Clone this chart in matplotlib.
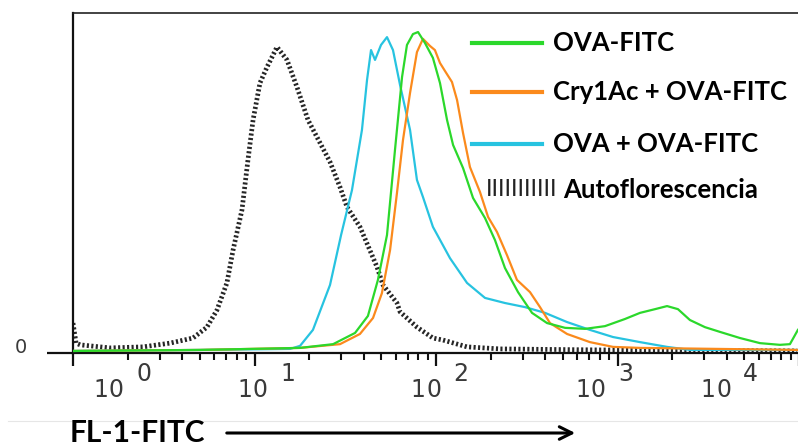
import numpy as np
import matplotlib
matplotlib.use("Agg")
import matplotlib.pyplot as plt
from matplotlib.lines import Line2D

W, H_ = 798, 446

# FL-1 intensity in decades (log10) and relative counts (0-100)
auto_log = [0.0, 0.017, 0.039, 0.204, 0.386, 0.534, 0.661, 0.738, 0.793, 0.848, 0.882,
            0.931, 0.964, 0.992, 1.030, 1.069, 1.124, 1.179, 1.234, 1.295, 1.361, 1.416,
            1.471, 1.510, 1.581, 1.675, 1.708, 1.785, 1.802, 1.895, 1.983, 2.039, 2.171,
            2.353, 2.904, 3.99]
auto_cnt = [8.8, 2.9, 2.4, 1.5, 1.8, 2.9, 4.4, 7.6, 12.6, 20.6, 30.3,
            42.1, 56.8, 68.5, 79.4, 84.1, 90.0, 86.2, 78.2, 68.5, 61.8, 56.2,
            48.8, 42.9, 37.1, 25.3, 20.0, 14.7, 12.1, 7.6, 4.4, 3.8, 1.8,
            1.2, 0.9, 0.6]

ova_log = [0.0, 0.70, 1.196, 1.251, 1.322, 1.416, 1.477, 1.537, 1.592, 1.620, 1.642,
           1.664, 1.697, 1.730, 1.763, 1.802, 1.857, 1.895, 1.928, 1.983, 2.077, 2.171,
           2.270, 2.380, 2.490, 2.601, 2.722, 2.848, 2.975, 3.124, 3.273, 3.40, 3.99]
ova_cnt = [0.6, 0.9, 1.2, 2.1, 6.8, 20.0, 34.7, 47.9, 65.6, 80.3, 89.1,
           86.2, 90.6, 92.9, 89.1, 78.8, 65.6, 50.9, 45.9, 37.1, 27.9, 20.6,
           16.2, 14.7, 13.5, 11.8, 9.1, 6.8, 4.7, 3.2, 1.8, 0.9, 0.9]

fitc_log = [0.0, 0.70, 1.251, 1.433, 1.554, 1.625, 1.680, 1.730, 1.774, 1.813, 1.840,
            1.873, 1.901, 1.939, 1.983, 2.022, 2.061, 2.094, 2.149, 2.204, 2.270, 2.325,
            2.380, 2.452, 2.529, 2.612, 2.711, 2.821, 2.931, 3.041, 3.124, 3.207, 3.273,
            3.333, 3.399, 3.482, 3.565, 3.675, 3.785, 3.895, 3.950, 3.994]
fitc_cnt = [0.6, 0.9, 1.5, 2.6, 5.9, 10.9, 21.5, 34.7, 59.7, 81.2, 90.6,
            93.8, 94.4, 91.2, 86.8, 79.4, 68.5, 61.2, 54.4, 45.6, 39.7, 33.2,
            25.0, 17.9, 11.8, 8.8, 7.4, 7.1, 7.9, 10.0, 11.8, 12.9, 13.8,
            12.9, 9.7, 7.6, 6.2, 4.4, 2.9, 2.4, 2.6, 6.8]

cry_log = [0.0, 0.70, 1.251, 1.471, 1.581, 1.653, 1.702, 1.747, 1.785, 1.818, 1.857,
           1.895, 1.928, 1.967, 1.994, 2.022, 2.050, 2.088, 2.116, 2.149, 2.187, 2.242,
           2.287, 2.336, 2.391, 2.446, 2.518, 2.573, 2.628, 2.722, 2.848, 2.975, 3.124,
           3.994]
cry_cnt = [0.6, 0.9, 1.5, 2.6, 5.6, 10.3, 17.6, 30.3, 47.1, 62.6, 76.5,
           88.5, 92.4, 90.3, 89.1, 85.3, 82.9, 79.7, 74.4, 64.7, 54.7, 47.4,
           40.0, 35.6, 28.8, 21.5, 17.9, 13.5, 8.8, 5.6, 3.2, 1.8, 1.5,
           0.9]

labels = ["OVA-FITC", "Cry1Ac + OVA-FITC", "OVA + OVA-FITC", "Autoflorescencia"]
colors = ["#2bd82b", "#fb8a1c", "#27c3e0"]
decades = [0, 1, 2, 3, 4]


def fx(x):
    return x / W


def fy(y):
    return 1 - y / H_


fig = plt.figure(figsize=(W / 100, H_ / 100), dpi=100)
ax = fig.add_axes([fx(73), fy(353), (800 - 73) / W, (353 - 13) / H_])
ax.set_xscale("log")
ax.set_xlim(1, 10 ** (727 / 181.5))
ax.set_ylim(0, 100)

ax.plot(10 ** np.array(auto_log), auto_cnt, color="#262626", lw=3.4,
        linestyle=(0, (0.45, 0.5)), dash_capstyle="butt", zorder=2)
for lx, cy, c in [(ova_log, ova_cnt, colors[2]), (cry_log, cry_cnt, colors[1]),
                  (fitc_log, fitc_cnt, colors[0])]:
    ax.plot(10 ** np.array(lx), cy, color=c, lw=1.6, zorder=3)

for s in ["left", "bottom"]:
    ax.spines[s].set_linewidth(1.6)
    ax.spines[s].set_color("#111111")
ax.spines["top"].set_linewidth(1.2)
ax.spines["top"].set_color("#222222")
ax.spines["right"].set_visible(False)

ax.set_xticks([10 ** d for d in decades])
ax.xaxis.set_minor_locator(matplotlib.ticker.LogLocator(base=10, subs=np.arange(2, 10)))
ax.tick_params(axis="x", which="major", direction="out", length=9, width=1.6,
               color="#111111", labelbottom=False)
ax.tick_params(axis="x", which="minor", direction="out", length=5, width=1.5,
               color="#111111", labelbottom=False)
ax.set_yticks([0])
ax.tick_params(axis="y", which="major", direction="out", length=18.5, width=1.6,
               color="#111111", labelleft=False)
ax.tick_params(axis="y", which="minor", left=False)

# decade labels (as drawn, shifted right of the ticks)
lab_left = [93, 237, 410, 575, 700]
for d, x0 in zip(decades, lab_left):
    fig.text(fx(x0), fy(397), "1", fontsize=17, color="#3a3a3a", ha="left", va="baseline")
    fig.text(fx(x0 + 16), fy(397), "0", fontsize=17, color="#3a3a3a", ha="left",
             va="baseline")
    fig.text(fx(x0 + 43), fy(381), str(d), fontsize=17, color="#3a3a3a", ha="left",
             va="baseline")
fig.text(fx(21), fy(353), "0", fontsize=14, color="#3a3a3a", ha="center", va="baseline")

# legend
leg_y = [43, 92, 144]
for yy, c, lab in zip(leg_y, colors, labels[:3]):
    fig.add_artist(Line2D([fx(472), fx(542)], [fy(yy), fy(yy)], color=c, lw=3))
    fig.text(fx(553), fy(yy), lab, fontsize=18.5, fontweight="bold", family="Lato",
             ha="left", va="center")
fig.text(fx(486), fy(190), "IIIIIIIIIII", fontsize=17, family="Lato", color="#222222",
         ha="left", va="center")
fig.text(fx(563), fy(190), labels[3], fontsize=18.5, fontweight="bold", family="Lato",
         ha="left", va="center")

# axis caption with arrow
fig.add_artist(Line2D([fx(8), 1], [fy(421), fy(421)], color="#e6e6e6", lw=0.8))
fig.text(fx(70), fy(442), "FL-1-FITC", fontsize=21.5, fontweight="bold", family="Lato",
         ha="left", va="baseline")
ax.annotate("", xy=(fx(578), fy(433)), xytext=(fx(224), fy(433)),
            xycoords="figure fraction", textcoords="figure fraction",
            arrowprops=dict(arrowstyle="->,head_length=0.9,head_width=0.45", lw=2.2,
                            color="black"))

fig.savefig("out.png", dpi=100)
